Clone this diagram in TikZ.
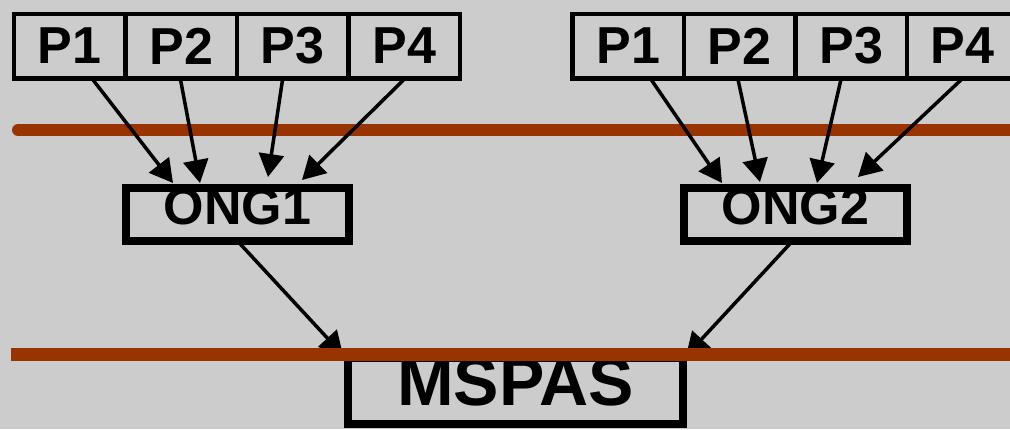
\documentclass[tikz,border=0pt]{standalone}
\usepackage{fontspec}
\setmainfont{Liberation Sans}
\usetikzlibrary{arrows.meta,positioning,calc}
\definecolor{slide}{HTML}{CCCCCC}
\definecolor{rust}{HTML}{993300}

\begin{document}
\begin{tikzpicture}[
  x=1pt, y=-1pt,
  font=\bfseries\fontsize{52}{52}\selectfont,
  cell/.style={draw, line width=4.5pt, minimum width=111.5pt, minimum height=64.5pt, inner sep=0pt, outer sep=0pt},
  ong/.style={draw, line width=8pt, minimum width=223pt, minimum height=53pt, inner sep=0pt, outer sep=0pt, text height=33pt, text depth=13pt},
  hub/.style={draw, line width=8pt, minimum width=335pt, minimum height=66pt, inner sep=0pt, outer sep=0pt, text height=40pt, text depth=12pt, font=\bfseries\fontsize{68}{68}\selectfont},
  arr/.style={-{Triangle[length=23pt, width=25pt]}, line width=3.5pt},
  rail/.style={draw=rust, line width=12pt}
]
\path[use as bounding box, fill=slide] (0,0) rectangle (1010,429);
\draw[rail, line cap=round] (18,130) -- (1016,130);
% left group
\node[cell] (p11) at (69.75,46) {P1};
\node[cell, right=0pt of p11] (p12) {P2};
\node[cell, right=0pt of p12] (p13) {P3};
\node[cell, right=0pt of p13] (p14) {P4};
\node[ong] (ong1) at (237.5,214.5) {ONG1};
% right group
\node[cell] (p21) at (628.25,46) {P1};
\node[cell, right=0pt of p21] (p22) {P2};
\node[cell, right=0pt of p22] (p23) {P3};
\node[cell, right=0pt of p23] (p24) {P4};
\node[ong] (ong2) at (795.5,214.5) {ONG2};
\node[hub] (mspas) at (515.5,391) {MSPAS};
\draw[arr] ($(p11.south)+(22,0)$) -- ($(ong1.north)+(-64.5,-5)$);
\draw[arr] ($(p12.south)+(-1,0)$) -- ($(ong1.north)+(-37.5,-5)$);
\draw[arr] ($(p13.south)+(-10,0)$) -- ($(ong1.north)+(30.5,-11)$);
\draw[arr] ($(p14.south)+(1,0)$) -- ($(ong1.north)+(64.5,-8)$);
\draw[arr] ($(p21.south)+(22,0)$) -- ($(ong2.north)+(-73.5,-5)$);
\draw[arr] ($(p22.south)+(-2,0)$) -- ($(ong2.north)+(-35.5,-6)$);
\draw[arr] ($(p23.south)+(-10,0)$) -- ($(ong2.north)+(21.5,-5)$);
\draw[arr] ($(p24.south)+(0,0)$) -- ($(ong2.north)+(62.5,-11)$);
\draw[arr] (ong1.south) -- ($(mspas.north)+(-172.5,-3)$);
\draw[arr] ($(ong2.south)+(-3,0)$) -- ($(mspas.north)+(170.5,-2)$);
\draw[rail, line width=13pt] (11,354.5) -- (1016,354.5);
\end{tikzpicture}
\end{document}
